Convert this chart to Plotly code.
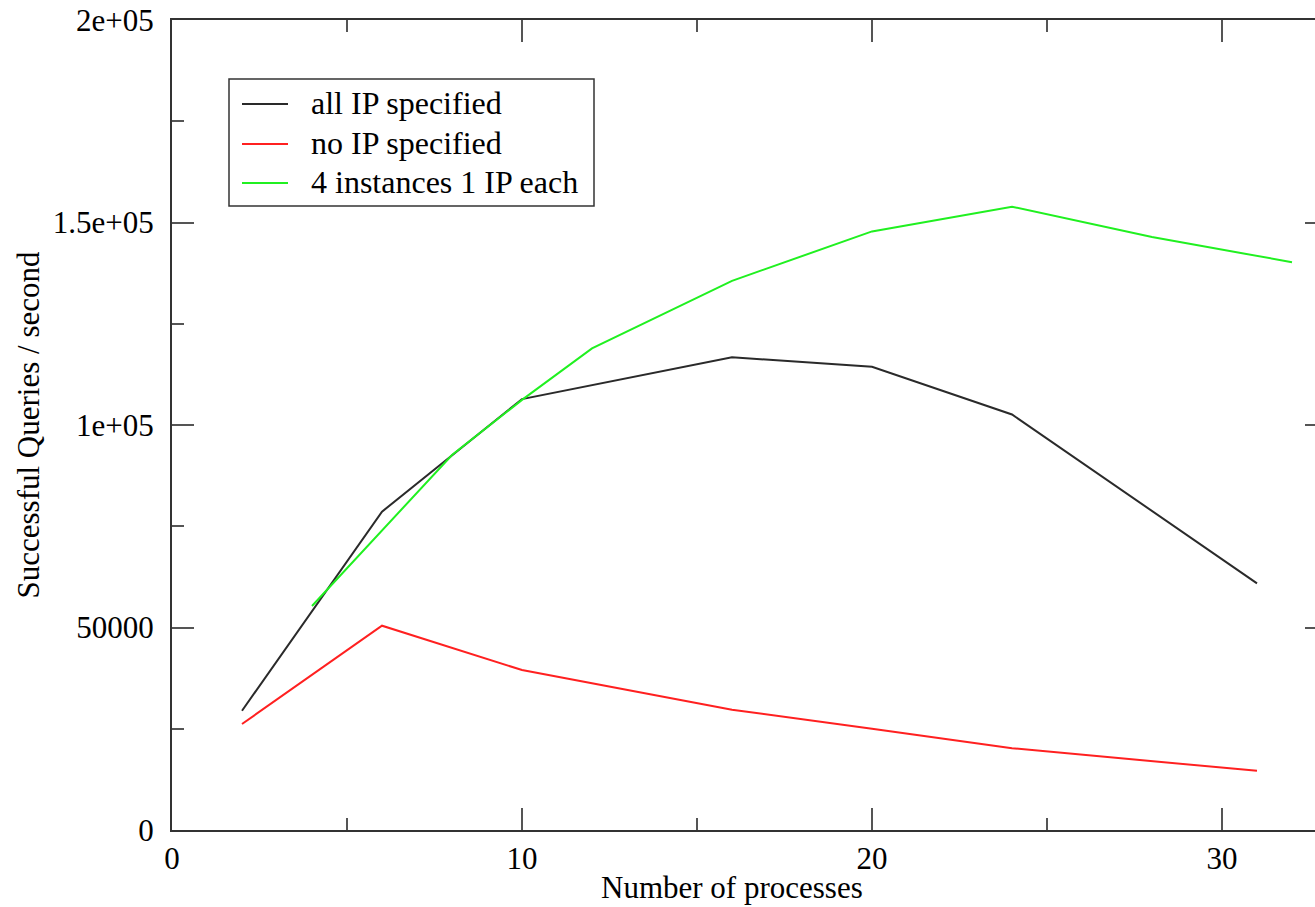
import plotly.graph_objects as go

# Throughput measurements (successful queries per second) by process count
procs_all = [2, 6, 10, 16, 20, 24, 31]
qps_all_ip = [29450, 78600, 106400, 116700, 114400, 102600, 60900]

procs_none = [2, 6, 10, 16, 20, 24, 31]
qps_no_ip = [26170, 50440, 39500, 29700, 25000, 20200, 14600]

procs_inst = [4, 6, 8, 10, 12, 16, 20, 24, 28, 32]
qps_4_inst = [55300, 74000, 92600, 106200, 118900, 135600, 147800, 153900, 146400, 140200]

series_names = ["all IP specified", "no IP specified", "4 instances 1 IP each"]
series_colors = ["#2a2a2a", "#ff2020", "#20f020"]

y_tick_vals = [0, 50000, 100000, 150000, 200000]
y_tick_text = ["0", "50000", "1e+05", "1.5e+05", "2e+05"]
x_tick_vals = [0, 10, 20, 30]
x_tick_text = ["0", "10", "20", "30"]

FONT = "Liberation Serif"
AX = "#333333"
TK = "#555555"

W, H = 1315, 907
ML, MR, MT, MB = 172, 0, 20, 77
PW, PH = W - ML - MR, H - MT - MB


def px_x(p):
    """pixel column -> paper x"""
    return (p - ML) / PW


def px_y(p):
    """pixel row -> paper y"""
    return (H - MB - p) / PH


fig = go.Figure()
for xs, ys, name, col in zip(
    [procs_all, procs_none, procs_inst],
    [qps_all_ip, qps_no_ip, qps_4_inst],
    series_names,
    series_colors,
):
    fig.add_trace(go.Scatter(x=xs, y=ys, mode="lines", name=name,
                             line=dict(color=col, width=2), showlegend=False))

# empty trace to carry the right-hand tick axis
fig.add_trace(go.Scatter(x=[], y=[], yaxis="y2", showlegend=False, hoverinfo="skip"))

# boxed legend in the upper-left corner of the plot
shapes = [dict(type="rect", xref="paper", yref="paper",
               x0=px_x(229), x1=px_x(594), y0=px_y(79), y1=px_y(206),
               line=dict(color=AX, width=1.5), fillcolor="white", layer="above")]
annotations = []
row_y = [104, 144, 183]
for ry, name, col in zip(row_y, series_names, series_colors):
    shapes.append(dict(type="line", xref="paper", yref="paper",
                       x0=px_x(242), x1=px_x(288), y0=px_y(ry), y1=px_y(ry),
                       line=dict(color=col, width=2), layer="above"))
    annotations.append(dict(xref="paper", yref="paper", x=px_x(309), y=px_y(ry - 1),
                            xanchor="left", yanchor="middle", showarrow=False,
                            text=name, font=dict(family=FONT, size=32, color="black")))

# x-axis title
annotations.append(dict(xref="paper", yref="paper", x=px_x(732), y=px_y(888),
                        xanchor="center", yanchor="middle", showarrow=False,
                        text="Number of processes",
                        font=dict(family=FONT, size=31, color="black")))

fig.update_layout(
    width=W, height=H,
    margin=dict(l=ML, r=MR, t=MT, b=MB),
    paper_bgcolor="white", plot_bgcolor="white",
    font=dict(family=FONT, size=31, color="black"),
    showlegend=False,
    shapes=shapes,
    annotations=annotations,
    xaxis=dict(
        range=[0, 32.657], showgrid=False, zeroline=False,
        showline=True, linecolor=AX, linewidth=2, mirror="ticks",
        ticks="inside", ticklen=22, tickwidth=2, tickcolor=TK,
        tickvals=x_tick_vals, ticktext=x_tick_text, ticklabelstandoff=0,
        minor=dict(ticks="inside", ticklen=12, tickwidth=2, tickcolor=TK, dtick=5, showgrid=False),
    ),
    yaxis=dict(
        range=[0, 200000], showgrid=False, zeroline=False,
        showline=True, linecolor=AX, linewidth=2, mirror=False,
        ticks="inside", ticklen=22, tickwidth=2, tickcolor=TK,
        tickvals=y_tick_vals, ticktext=y_tick_text, ticklabelstandoff=10,
        minor=dict(ticks="inside", ticklen=12, tickwidth=2, tickcolor=TK, dtick=25000, showgrid=False),
        title=dict(text="Successful Queries / second", standoff=4,
                   font=dict(family=FONT, size=31)),
    ),
    yaxis2=dict(
        range=[0, 200000], overlaying="y", side="right",
        showgrid=False, zeroline=False, showline=False,
        ticks="inside", ticklen=10, tickwidth=2, tickcolor=TK,
        tickvals=y_tick_vals, showticklabels=False,
    ),
)

fig.write_html("out.html")
